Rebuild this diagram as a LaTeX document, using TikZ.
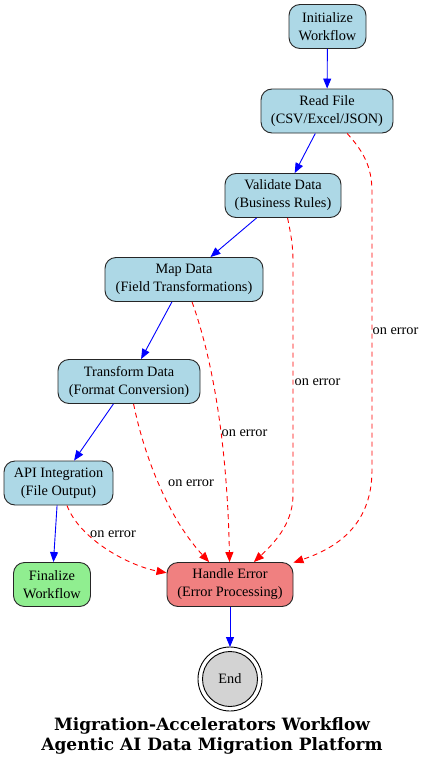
\documentclass[tikz,border=0pt]{standalone}
\usepackage{fontspec}
\setmainfont{Liberation Serif}
\newfontfamily\titlefont{DejaVu Serif}
\usetikzlibrary{arrows.meta}
\definecolor{lblue}{HTML}{ADD8E6}
\definecolor{lgreen}{HTML}{90EE90}
\definecolor{lcoral}{HTML}{F08080}
\definecolor{lgray}{HTML}{D3D3D3}
\tikzset{
  box/.style={draw=black!85, line width=0.9pt, rounded corners=11pt, fill=lblue,
    minimum height=44pt, inner sep=0pt, align=center,
    font=\fontsize{14.3}{18}\selectfont},
  flow/.style={draw=blue, line width=0.9pt, -{Triangle[length=10pt,width=8pt]}},
  err/.style={draw=red, line width=0.9pt, dash pattern=on 5pt off 4pt,
    -{Triangle[length=10pt,width=8pt]}},
  errlbl/.style={inner sep=0pt, font=\fontsize{14.3}{16}\selectfont},
}
\begin{document}
\begin{tikzpicture}[x=1pt,y=-1pt]
\useasboundingbox (0,0) rectangle (424,768);
\node[box, minimum width=77pt] (init) at (327.5,26.5) {Initialize\\Workflow};
\node[box, minimum width=132pt] (read) at (327,111) {Read File\\(CSV/Excel/JSON)};
\node[box, minimum width=116pt] (validate) at (283,195.5) {Validate Data\\(Business Rules)};
\node[box, minimum width=158pt] (map) at (184,279.5) {Map Data\\(Field Transformations)};
\node[box, minimum width=142pt] (transform) at (129,381.5) {Transform Data\\(Format Conversion)};
\node[box, minimum width=109pt] (api) at (58.5,483) {API Integration\\(File Output)};
\node[box, minimum width=77pt, fill=lgreen] (final) at (52,584.5) {Finalize\\Workflow};
\node[box, minimum width=126pt, fill=lcoral] (handle) at (230,584.5) {Handle Error\\(Error Processing)};
\node[circle, draw=black, line width=0.9pt, fill=lgray, minimum size=55pt, inner sep=0pt,
  font=\fontsize{14.3}{16}\selectfont] (end) at (230,679) {End};
\draw[line width=0.9pt] (end.center) circle (32pt);
\coordinate (endtop) at (230,647);

\draw[flow] (init) -- (read);
\draw[flow] (read) -- (validate);
\draw[flow] (validate) -- (map);
\draw[flow] (map) -- (transform);
\draw[flow] (transform) -- (api);
\draw[flow] (api) -- (final);
\draw[flow] (handle) -- (endtop);

\draw[err] (read) .. controls (362,150) and (372,165) .. (372,192) -- (372,470)
  .. controls (372,530) and (330,550) .. (handle);
\draw[err] (validate) .. controls (291,235) and (293,245) .. (293,262) -- (293,495)
  .. controls (293,525) and (272,545) .. (handle);
\draw[err] (map) .. controls (220,380) and (228,480) .. (handle);
\draw[err] (transform) .. controls (145,460) and (170,520) .. (handle);
\draw[err] (api) .. controls (80,540) and (130,566) .. (handle);

\node[errlbl] (l1) at (395.5,331) {on error};
\node[errlbl] (l2) at (317.5,382) {on error};
\node[errlbl] (l3) at (244.5,433) {on error};
\node[errlbl] (l4) at (191,483) {on error};
\node[errlbl] (l5) at (113,534) {on error};

\node[align=center, font=\titlefont\bfseries\fontsize{17}{20}\selectfont] (title) at (212,736)
  {Migration-Accelerators Workflow\\Agentic AI Data Migration Platform};
\end{tikzpicture}
\end{document}
